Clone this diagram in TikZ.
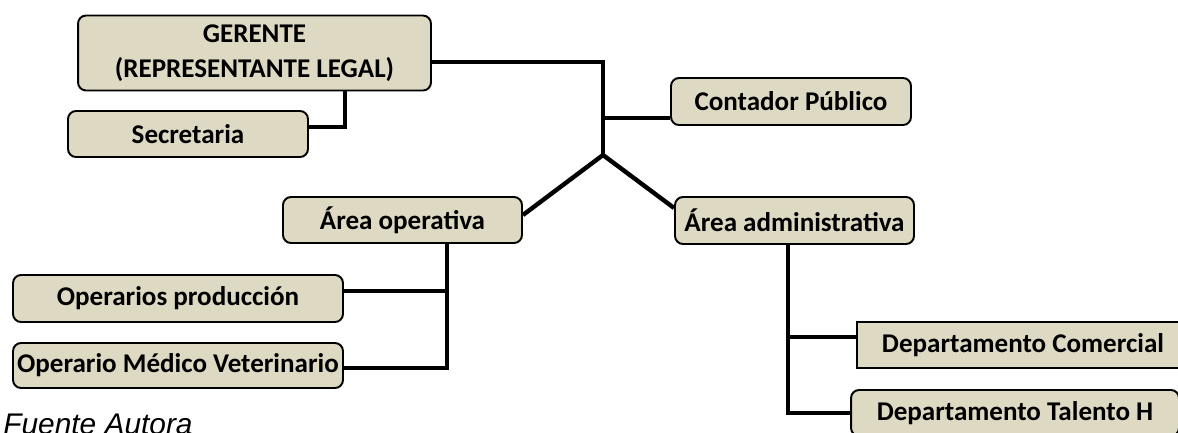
\documentclass[tikz,border=0pt]{standalone}
\usepackage{fontspec}
\setmainfont{Carlito}
\newfontfamily\fuentefont{Liberation Sans}
\usetikzlibrary{positioning}
\definecolor{cajafondo}{HTML}{DDD9C3}
\tikzset{
  cargo/.style={draw=black, line width=1.1pt, fill=cajafondo, rounded corners=0.16cm,
    inner sep=0pt, align=center, font=\fontsize{15.4}{20}\selectfont\bfseries},
  enlace/.style={line width=2.5pt, line join=miter}
}
\begin{document}
\begin{tikzpicture}[x=0.02cm, y=-0.02cm]
            \clip (0,0) rectangle (1178,433);
            % cajas
            \node[cargo, minimum width=7.06cm, minimum height=1.5cm] (gerente) at (254.5,53) {GERENTE\\(REPRESENTANTE LEGAL)};
            \node[cargo, minimum width=4.8cm, minimum height=0.92cm] (secretaria) at (188,134) {Secretaria};
            \node[cargo, minimum width=4.8cm, minimum height=0.94cm] (contador) at (791,101.5) {Contador Público};
            \node[cargo, minimum width=4.78cm, minimum height=0.92cm] (operativa) at (402.5,220) {Área operativa};
            \node[cargo, minimum width=4.78cm, minimum height=0.94cm] (administrativa) at (794.5,220.5) {Área administrativa};
            \node[cargo, minimum width=6.6cm, minimum height=0.94cm] (produccion) at (178,298.5) {Operarios producción};
            \node[cargo, minimum width=6.6cm, minimum height=0.9cm] (veterinario) at (178,365.5) {Operario Médico Veterinario};
            \node[cargo, sharp corners, minimum width=6.64cm, minimum height=0.92cm] (comercial) at (1023,345) {Departamento Comercial};
            \node[cargo, minimum width=6.56cm, minimum height=0.92cm] (talento) at (1015,413) {Departamento Talento H};
            \node[anchor=base west, inner sep=0pt, font=\fuentefont\itshape\fontsize{17}{20}\selectfont] (fuente) at (3,434) {Fuente Autora};

            % puntos de union
            \coordinate (arriba) at (603,62);
            \coordinate (cruce) at (603,155);
            \coordinate (sec) at (345,127);
            \coordinate (ope) at (447,368);
            \coordinate (adm) at (788,413);

            % lineas
            \draw[enlace] (gerente.east |- arriba) -- (arriba) -- (cruce);
            \draw[enlace] (sec |- gerente.south) -- (sec) -- (secretaria.east |- sec);
            \draw[enlace] (cruce |- 0,118) -- (contador.west |- 0,118);
            \draw[enlace] (cruce) -- (operativa.east |- 0,215);
            \draw[enlace] (cruce) -- (administrativa.west |- 0,208);
            \draw[enlace] (ope |- operativa.south) -- (ope) -- (veterinario.east |- ope);
            \draw[enlace] (produccion.east |- 0,291) -- (ope |- 0,291);
            \draw[enlace] (adm |- administrativa.south) -- (adm) -- (talento.west |- adm);
            \draw[enlace] (adm |- 0,337) -- (comercial.west |- 0,337);
\end{tikzpicture}
\end{document}
